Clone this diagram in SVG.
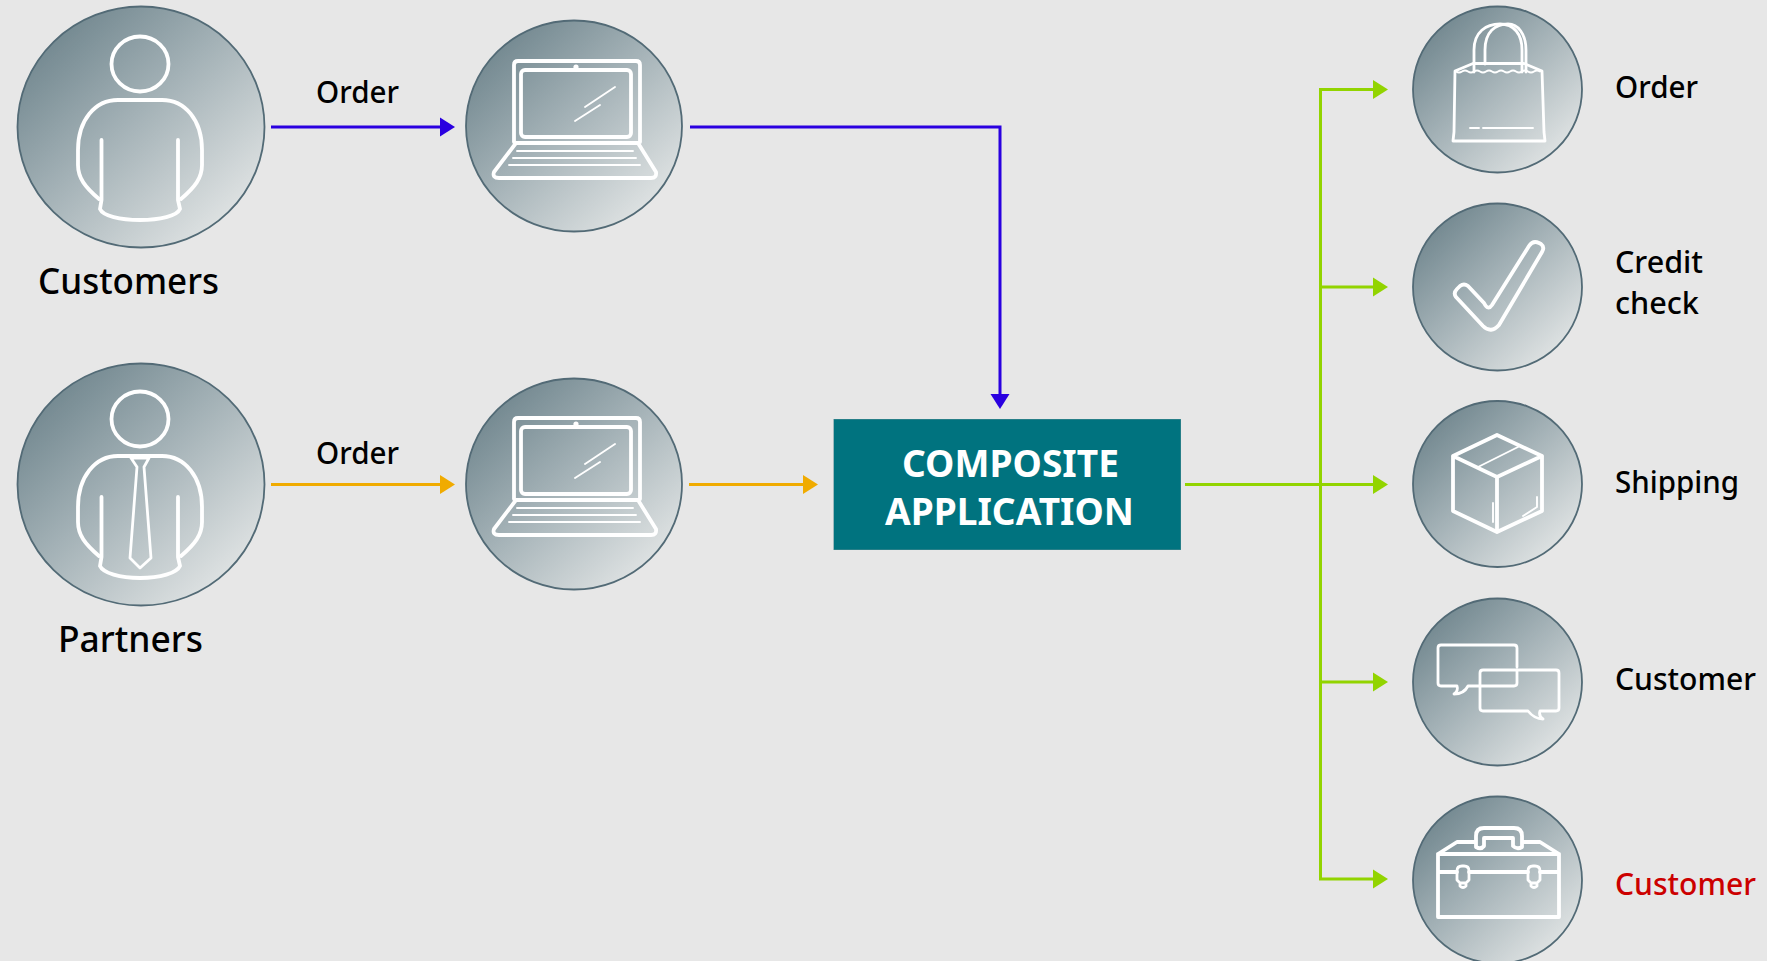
<svg xmlns="http://www.w3.org/2000/svg" xmlns:xlink="http://www.w3.org/1999/xlink" width="1767" height="961" viewBox="0 0 1767 961">
<style>
.bg{fill:#e7e7e7}
.disc{fill:url(#disc);stroke:#526b76;stroke-width:1.8;filter:url(#soft)}
.i{fill:none;stroke:#fff;stroke-width:3.8;stroke-linejoin:round;stroke-linecap:round}
.t{fill:none;stroke:#fff;stroke-width:1.9;stroke-linecap:round;stroke-linejoin:round}
.l{font-family:"Noto Sans","Open Sans",sans-serif;font-weight:500;fill:#000}
.c{fill:none;stroke-width:3}
.title{font-family:"Noto Sans","Open Sans",sans-serif;font-weight:700;fill:#fff;font-size:37px}
</style>
<defs>
<linearGradient id="disc" x1="0.1" y1="0.1" x2="0.88" y2="0.92">
<stop offset="0" stop-color="#6f858d"/><stop offset="0.45" stop-color="#a3b1b6"/><stop offset="1" stop-color="#e3e6e6"/>
</linearGradient>
<filter id="soft" x="-5%" y="-5%" width="110%" height="110%"><feGaussianBlur stdDeviation="0.6"/></filter>
<marker id="ab" markerUnits="userSpaceOnUse" markerWidth="16" markerHeight="20" refX="0" refY="10" orient="auto"><path d="M0 0.5L15 10L0 19.5Z" fill="#2a00e0"/></marker>
<marker id="ao" markerUnits="userSpaceOnUse" markerWidth="16" markerHeight="20" refX="0" refY="10" orient="auto"><path d="M0 0.5L15 10L0 19.5Z" fill="#f0ab00"/></marker>
<marker id="ag" markerUnits="userSpaceOnUse" markerWidth="16" markerHeight="20" refX="0" refY="10" orient="auto"><path d="M0 0.5L15 10L0 19.5Z" fill="#92d400"/></marker>
<g id="laptop">
<path class="i" d="M514 142V65Q514 61 518 61H636Q640 61 640 65V142"/>
<rect class="i" x="521" y="70" width="110" height="67" rx="4"/>
<circle cx="576" cy="67" r="2.6" fill="#fff"/>
<path class="i" d="M516 143H638L656 172Q657 178 651 178H499Q492 178 494 172Z"/>
<path class="t" d="M517 151H633M513 158H636M509 165H640M585 107L615 87M575 121L600 105"/>
</g>
</defs>
<rect class="bg" width="1767" height="961"/>
<g id="connectors">
<path class="c" stroke="#2a00e0" d="M271 127H440" marker-end="url(#ab)"/>
<path class="c" stroke="#2a00e0" d="M690 127H1000V394" marker-end="url(#ab)"/>
<path class="c" stroke="#f0ab00" d="M271 484.500H440" marker-end="url(#ao)"/>
<path class="c" stroke="#f0ab00" d="M689 484.500H803" marker-end="url(#ao)"/>
<path class="c" stroke="#92d400" d="M1185 484.500H1373" marker-end="url(#ag)"/>
<path class="c" stroke="#92d400" d="M1320.500 484.500V89.500H1373" marker-end="url(#ag)"/>
<path class="c" stroke="#92d400" d="M1320.500 287H1373" marker-end="url(#ag)"/>
<path class="c" stroke="#92d400" d="M1320.500 682H1373" marker-end="url(#ag)"/>
<path class="c" stroke="#92d400" d="M1320.500 484.500V879H1373" marker-end="url(#ag)"/>
</g>
<g id="customers">
<ellipse class="disc" cx="141" cy="127" rx="123.500" ry="120.500"/>
<ellipse class="i" cx="140" cy="64" rx="28.500" ry="27.500"/>
<path class="i" d="M99 199C85 187 78 178 78 165V150C78 120 95 100 118 100H162C185 100 202 120 202 150V165C202 178 195 187 181 199"/>
<path class="i" d="M101.500 140V200L100 209C103 216 120 220 140 220C160 220 177 216 180 209L178 200V140"/>
<text class="l" x="38" y="294" font-size="37" textLength="181" lengthAdjust="spacingAndGlyphs">Customers</text>
</g>
<g id="partners">
<ellipse class="disc" cx="141" cy="484.500" rx="123.500" ry="121"/>
<ellipse class="i" cx="140" cy="419" rx="28.500" ry="27.500"/>
<path class="i" d="M99 556C85 544 78 535 78 522V507C78 477 95 456 118 456H162C185 456 202 477 202 507V522C202 535 195 544 181 556"/>
<path class="i" d="M101.500 497V557L100 566C103 573 120 578 140 578C160 578 177 573 180 566L178 557V497"/>
<path class="t" style="stroke-width:2.800" d="M131 458H149L144 467L151 558L140 568L130 558L137 467Z"/>
<text class="l" x="58" y="652" font-size="37" textLength="145" lengthAdjust="spacingAndGlyphs">Partners</text>
</g>
<g id="laptop-order">
<ellipse class="disc" cx="574" cy="126" rx="108" ry="105.500"/>
<use xlink:href="#laptop" href="#laptop"/>
</g>
<g id="laptop-partner">
<ellipse class="disc" cx="574" cy="484" rx="108" ry="105.500"/>
<use xlink:href="#laptop" href="#laptop" y="357"/>
</g>
<g id="order-label-top"><text class="l" x="316" y="103" font-size="31" textLength="83" lengthAdjust="spacingAndGlyphs">Order</text></g>
<g id="order-label-bottom"><text class="l" x="316" y="464" font-size="31" textLength="83" lengthAdjust="spacingAndGlyphs">Order</text></g>
<g id="composite-application">
<rect x="833.500" y="419" width="347.500" height="131" fill="#4f8c93" filter="url(#soft)"/>
<rect x="834" y="419.500" width="346.500" height="130" fill="#00737f"/>
<text class="title" x="902" y="476.500" textLength="217" lengthAdjust="spacingAndGlyphs">COMPOSITE</text>
<text class="title" x="885" y="524.500" textLength="249" lengthAdjust="spacingAndGlyphs">APPLICATION</text>
</g>
<g id="order-service">
<ellipse class="disc" cx="1497.500" cy="89.500" rx="84.500" ry="83"/>
<path class="i" style="stroke-width:2.800" d="M1455 71L1473 63.500H1524L1542 71L1544 132L1545 141H1453L1454 132Z"/>
<path class="i" style="stroke-width:2.800" d="M1474 72V50C1474 32 1486 24 1500 24C1514 24 1522 34 1522 50V72"/>
<path class="i" style="stroke-width:2.800" d="M1485 64V50C1485 32 1495 24 1508 24C1518 24 1526 34 1526 50V72"/>
<path class="t" d="M1456 71.500q3 2 6 0t6 0t6 0t6 0t6 0t6 0t6 0t6 0t6 0t6 0t6 0t6 0t6 0t6 0M1470 128H1479M1483 128H1533"/>
<text class="l" x="1615" y="98" font-size="31" textLength="83" lengthAdjust="spacingAndGlyphs">Order</text>
</g>
<g id="credit-check">
<ellipse class="disc" cx="1497.500" cy="287" rx="84.500" ry="83.500"/>
<path class="i" d="M1456 297Q1453 293 1457 289L1460 286Q1464 283 1468 286L1484 303Q1488 311 1492 305L1529 246Q1533 240 1539 243L1541 244Q1545 247 1542 252L1499 325Q1491 334 1483 326Z"/>
<text class="l" x="1615" y="273" font-size="31" textLength="88" lengthAdjust="spacingAndGlyphs">Credit</text>
<text class="l" x="1615" y="313.500" font-size="31" textLength="84" lengthAdjust="spacingAndGlyphs">check</text>
</g>
<g id="shipping">
<ellipse class="disc" cx="1497.500" cy="484" rx="84.500" ry="83"/>
<path class="i" d="M1497 435L1542 456V511L1497 532L1453 511V456ZM1453 456L1497 477L1542 456M1497 477V532"/>
<path class="t" d="M1478 467L1518 447M1493 503V522M1537 497V507L1523 516"/>
<text class="l" x="1615" y="493" font-size="31" textLength="124" lengthAdjust="spacingAndGlyphs">Shipping</text>
</g>
<g id="customer-chat">
<ellipse class="disc" cx="1497.500" cy="682" rx="84.500" ry="83.500"/>
<path class="i" style="stroke-width:2.800" d="M1480 686H1468C1465 692 1460 694 1454 694C1457 692 1458 689 1457 686H1441Q1438 686 1438 683V648Q1438 645 1441 645H1514Q1517 645 1517 648V667"/>
<path class="i" style="stroke-width:2.800" d="M1517 670V683Q1517 686 1514 686H1480"/>
<path class="i" style="stroke-width:2.800" d="M1483 670H1556Q1559 670 1559 673V708Q1559 711 1556 711H1540C1539 714 1540 717 1543 719C1537 719 1532 716 1528 711H1483Q1480 711 1480 708V673Q1480 670 1483 670Z"/>
<text class="l" x="1615" y="689.500" font-size="31" textLength="141" lengthAdjust="spacingAndGlyphs">Customer</text>
</g>
<g id="customer-tools">
<ellipse class="disc" cx="1497.500" cy="880" rx="84.500" ry="83.500"/>
<path class="i" d="M1438 854H1559V917H1438ZM1438 854L1457 842H1475M1523 842H1540L1559 854M1438 872H1457M1469 872H1528M1540 872H1559"/>
<path class="i" d="M1476 847V836Q1476 828 1484 828H1514Q1522 828 1522 836V847Q1517 850 1513 846V838H1484V846Q1481 850 1476 847Z"/>
<path class="i" style="stroke-width:2.800" d="M1457 871Q1457 866 1462 866H1464Q1469 866 1469 871V880L1466 883H1460L1457 880ZM1460 883V886Q1463 889 1466 886V883M1528 871Q1528 866 1533 866H1535Q1540 866 1540 871V880L1537 883H1531L1528 880ZM1531 883V886Q1534 889 1537 886V883"/>
<text class="l" x="1615" y="894.500" font-size="31" textLength="141" lengthAdjust="spacingAndGlyphs" style="fill:#cc0000">Customer</text>
</g>
</svg>
